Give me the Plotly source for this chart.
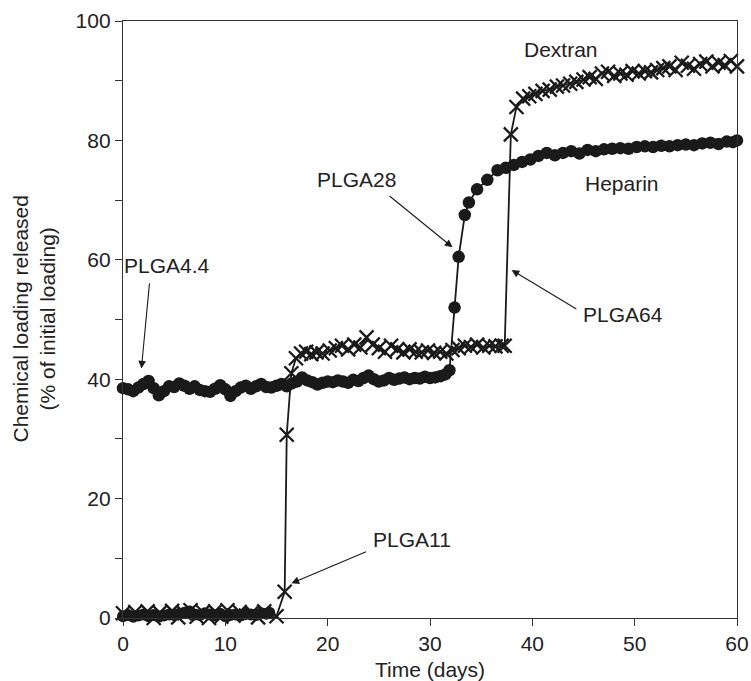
import plotly.graph_objects as go

# ---------------- data ----------------
# Heparin (filled circles), main curve
hep_t = [0, 0.5, 1, 1.5, 2, 2.5, 3, 3.5, 4, 4.5, 5, 5.5, 6, 6.5, 7, 7.5, 8, 8.5, 9, 9.5,
         10, 10.5, 11, 11.5, 12, 12.5, 13, 13.5, 14, 14.5, 15, 15.5, 16, 16.5, 17, 17.5,
         18, 18.5, 19, 19.5, 20, 20.5, 21, 21.5, 22, 22.5, 23, 23.5, 24, 24.5, 25, 25.5,
         26, 26.5, 27, 27.5, 28, 28.5, 29, 29.5, 30, 30.5, 31, 31.5, 31.9,
         32.4, 32.8, 33.4, 33.8, 34.6, 35.6, 36.6, 37.4, 38.2, 39.0, 39.8, 40.6, 41.4,
         42.2, 43.0, 43.8, 44.6, 45.4, 46.2, 47.0, 47.8, 48.6, 49.4, 50.2, 51.0, 51.8,
         52.6, 53.4, 54.2, 55.0, 55.8, 56.6, 57.4, 58.2, 59.0, 59.6, 60.0]
hep_v = [38.5, 38.3, 38.0, 38.6, 39.2, 39.7, 38.5, 37.3, 38.0, 38.8, 38.7, 39.3, 38.9, 38.4,
         38.8, 38.2, 38.0, 37.9, 38.4, 39.0, 38.3, 37.2, 38.0, 38.6, 38.9, 38.4, 38.8, 39.2,
         38.7, 38.6, 38.9, 39.2, 38.8, 39.3, 39.6, 40.3, 39.8, 39.5, 39.1, 39.4, 39.6, 39.5,
         39.8, 39.6, 39.4, 39.9, 39.7, 40.2, 40.6, 40.0, 39.6, 39.8, 40.2, 39.9, 40.1, 40.3,
         40.0, 40.2, 40.1, 40.4, 40.2, 40.3, 40.5, 40.8, 41.5,
         52.0, 60.5, 67.5, 69.6, 71.8, 73.4, 75.0, 75.4, 75.9, 76.4, 76.8, 77.4, 77.9,
         77.5, 77.9, 78.2, 77.8, 78.4, 78.2, 78.5, 78.6, 78.7, 78.6, 78.9, 79.0, 78.9,
         79.1, 79.0, 79.2, 79.3, 79.2, 79.5, 79.6, 79.4, 79.8, 79.7, 80.0]

# Heparin (filled circles), points near zero at the start
hep0_t = [0, 0.5, 1, 1.5, 2, 2.5, 3, 3.5, 4, 4.5, 5, 5.5, 6, 6.5, 7, 7.5, 8, 8.5, 9, 9.5,
          10, 10.5, 11, 11.5, 12, 12.5, 13, 13.5, 14, 14.3]
hep0_v = [0.3, 0.5, 0.2, 0.4, 0.6, 0.3, 0.5, 0.2, 0.4, 0.6, 0.5, 0.7, 0.9, 1.1, 0.6, 0.5,
          0.8, 0.6, 0.4, 0.7, 0.3, 0.5, 0.6, 0.4, 0.7, 0.6, 0.5, 0.8, 0.7, 0.9]

# Dextran (crosses)
dex_t = [0, 0.6, 1.2, 1.8, 2.4, 3.0, 3.6, 4.2, 4.8, 5.4, 6.0, 6.6, 7.2, 7.8, 8.4, 9.0,
         9.6, 10.2, 10.8, 11.4, 12.0, 12.6, 13.2, 13.8, 14.4, 15.0, 15.8, 16.0, 16.45,
         16.9, 17.4, 17.9, 18.4, 18.9, 19.5, 20.2, 20.8, 21.4, 22.0, 22.6, 23.2, 23.8,
         24.4, 25.0, 25.6, 26.2, 26.8, 27.4, 28.0, 28.6, 29.2, 29.8, 30.4, 31.0, 31.6,
         32.2, 32.8, 33.4, 34.0, 34.6, 35.2, 35.8, 36.4, 37.0, 37.3, 37.9, 38.45, 39.1,
         39.7, 40.3, 41.0, 41.7, 42.4, 43.0, 43.7, 44.3, 45.0, 45.6, 46.2, 46.8, 47.4,
         48.0, 48.6, 49.2, 49.8, 50.4, 51.0, 51.6, 52.2, 52.8, 53.4, 54.0, 54.6, 55.2,
         55.8, 56.4, 57.0, 57.6, 58.2, 58.8, 59.4, 60.0]
dex_v = [0.8, -0.3, 1.0, -0.2, 1.1, 0.0, 0.9, -0.1, 1.2, 0.1, 0.8, 1.3, 0.2, 1.0, 0.0,
         1.1, 0.2, 1.3, 0.4, 1.0, -0.2, 0.9, 0.1, 1.1, -0.2, 0.3, 4.4, 30.7, 41.0,
         43.5, 44.3, 44.6, 44.2, 44.5, 44.3, 44.8, 45.2, 45.6, 45.0, 45.8, 45.3, 47.0,
         45.8, 45.2, 44.6, 45.6, 45.0, 44.5, 45.0, 44.6, 44.5, 44.8, 44.4, 44.6, 44.3,
         44.9, 45.2, 45.6, 45.4, 45.8, 45.3, 45.6, 45.5, 45.6, 45.6, 81.0, 85.6, 87.0,
         87.4, 87.8, 88.3, 88.5, 89.0, 89.2, 89.5, 89.8, 90.2, 90.6, 90.3, 91.2, 91.5,
         90.8, 91.2, 91.0, 91.6, 91.2, 91.6, 91.4, 91.8, 92.1, 92.4, 91.8, 93.0, 92.5,
         92.0, 92.8, 93.2, 92.4, 93.0, 92.6, 93.3, 92.4]

x_ticks = [0, 10, 20, 30, 40, 50, 60]
y_ticks = [0, 20, 40, 60, 80, 100]

# labels: (text, t, value)
text_labels = [("Dextran", 42.8, 95.3), ("Heparin", 48.8, 72.8), ("PLGA28", 22.85, 73.5),
               ("PLGA64", 48.85, 50.9), ("PLGA4.4", 4.3, 59.0), ("PLGA11", 28.2, 13.2)]
# arrows: (tip t, tip v, tail t, tail v)
arrows = [(1.8, 41.8, 2.6, 56.3), (32.2, 62.1, 25.9, 70.9),
          (37.97, 58.3, 44.45, 51.6), (16.46, 5.8, 23.9, 11.2)]

INK = "#1a1a1a"
FONT = "Liberation Sans, Arial, Helvetica, sans-serif"
FS = 21

fig = go.Figure()
fig.add_trace(go.Scatter(x=dex_t, y=dex_v, mode="lines+markers", cliponaxis=False,
                         line=dict(color=INK, width=1.8),
                         marker=dict(symbol="x-thin", size=14, color=INK,
                                     line=dict(color=INK, width=2.3)),
                         showlegend=False))
fig.add_trace(go.Scatter(x=hep0_t, y=hep0_v, mode="lines+markers", cliponaxis=False,
                         line=dict(color=INK, width=1.8),
                         marker=dict(symbol="circle", size=12, color=INK),
                         showlegend=False))
fig.add_trace(go.Scatter(x=hep_t, y=hep_v, mode="lines+markers", cliponaxis=False,
                         line=dict(color=INK, width=1.8),
                         marker=dict(symbol="circle", size=12.5, color=INK),
                         showlegend=False))

annotations = []
for txt, t, v in text_labels:
    annotations.append(dict(x=t, y=v, xref="x", yref="y", text=txt, showarrow=False,
                            font=dict(family=FONT, size=FS, color="#222"),
                            xanchor="center", yanchor="middle"))
for tx, ty, ax, ay in arrows:
    annotations.append(dict(x=tx, y=ty, xref="x", yref="y", ax=ax, ay=ay,
                            axref="x", ayref="y", text="", showarrow=True,
                            arrowhead=2, arrowsize=1.4, arrowwidth=1.1,
                            arrowcolor=INK, standoff=0))

W, H = 751, 681
PL, PT, PW, PH = 123, 21, 614, 597
annotations.append(dict(x=(33 - PL) / PW, y=0.5, xref="paper", yref="paper",
                        text="Chemical loading released<br>(% of initial loading)",
                        textangle=-90, showarrow=False, xanchor="center", yanchor="middle",
                        font=dict(family=FONT, size=FS, color="#222")))
annotations.append(dict(x=0.5, y=-(669 - 618) / PH, xref="paper", yref="paper",
                        text="Time (days)", showarrow=False, xanchor="center",
                        yanchor="middle", font=dict(family=FONT, size=FS, color="#222")))

axis_common = dict(showline=True, mirror=True, linecolor="#333", linewidth=1.3,
                   ticks="outside", ticklen=7, tickwidth=1.3, tickcolor="#333",
                   showgrid=False, zeroline=False, automargin=False,
                   tickfont=dict(family=FONT, size=FS, color="#222"))

fig.update_layout(
    width=W, height=H,
    margin=dict(l=PL, r=W - PL - PW, t=PT, b=H - PT - PH),
    paper_bgcolor="white", plot_bgcolor="white",
    xaxis=dict(range=[0, 60], tickvals=x_ticks, **axis_common),
    yaxis=dict(range=[0, 100], tickvals=y_ticks,
               minor=dict(dtick=10, ticks="outside", ticklen=7, tickcolor="#333", tickwidth=1.3),
               **axis_common),
    annotations=annotations,
)

fig.write_html("out.html", config={"displayModeBar": False},
               post_script="document.body.style.margin='0';document.body.style.overflow='hidden';")
